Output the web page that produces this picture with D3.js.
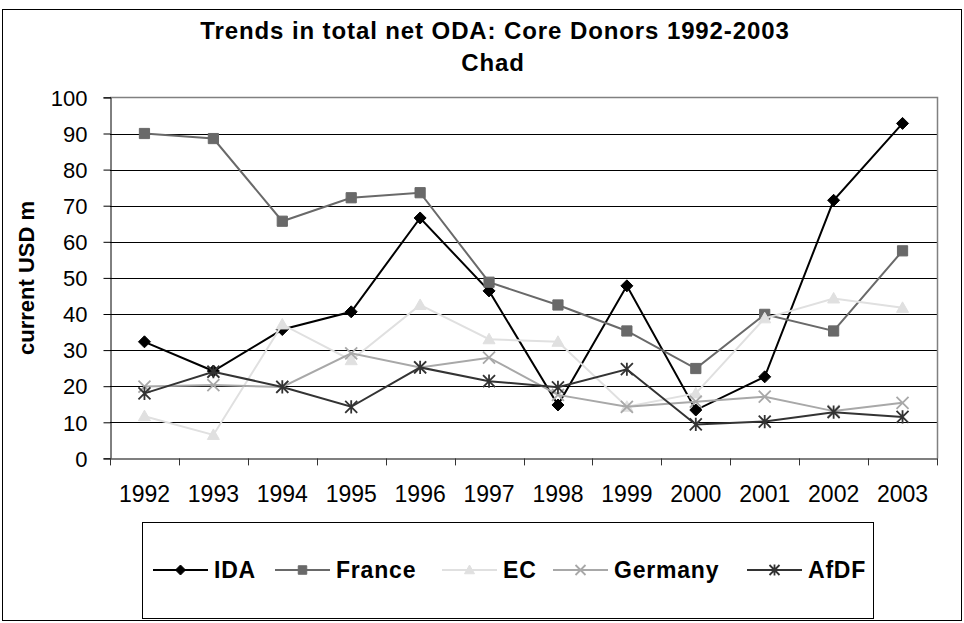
<!DOCTYPE html>
<html><head><meta charset="utf-8">
<script src="https://cdn.jsdelivr.net/npm/d3@7"></script>
<style>
html,body{margin:0;padding:0;background:#fff;}
svg{display:block;font-family:"Liberation Sans",Arial,sans-serif;}
</style></head>
<body>
<svg id="chart" width="964" height="623"></svg>
<script>
const years = ["1992","1993","1994","1995","1996","1997","1998","1999","2000","2001","2002","2003"];
const yTicks = [0,10,20,30,40,50,60,70,80,90,100];
const seriesNames = ["IDA","France","EC","Germany","AfDF"];
const idaValues     = [32.3, 24.2, 35.7, 40.6, 66.6, 46.4, 14.8, 47.8, 13.4, 22.6, 71.5, 92.8];
const franceValues  = [90.0, 88.6, 65.7, 72.2, 73.6, 48.8, 42.5, 35.3, 24.9, 39.9, 35.3, 57.5];
const ecValues      = [11.7, 6.5, 37.1, 27.2, 42.5, 33.0, 32.3, 14.3, 18.0, 38.8, 44.3, 41.7];
const germanyValues = [19.9, 20.3, 19.8, 29.1, 25.2, 27.9, 17.6, 14.3, 15.7, 17.1, 13.1, 15.4];
const afdfValues    = [18.0, 24.0, 19.8, 14.3, 25.2, 21.4, 19.7, 24.7, 9.4, 10.2, 12.8, 11.5];

const titleText = "Trends in total net ODA: Core Donors 1992-2003";
const subtitleText = "Chad";
const yAxisTitle = "current USD m";

const styles = {
  IDA:     {color:"#000000", marker:"diamond"},
  France:  {color:"#696969", marker:"square"},
  EC:      {color:"#e0e0e0", marker:"triangle"},
  Germany: {color:"#a8a8a8", marker:"x"},
  AfDF:    {color:"#333333", marker:"asterisk"}
};
const seriesData = [idaValues, franceValues, ecValues, germanyValues, afdfValues];

const svg = d3.select("#chart");
const L = 110, R = 937, T = 97.4, B = 458.4;

// outer border
svg.append("rect").attr("x",2.5).attr("y",9.5).attr("width",959).attr("height",611)
  .attr("fill","#fff").attr("stroke","#000").attr("stroke-width",1);

const x = d3.scaleBand().domain(years).range([L,R]).padding(0);
const y = d3.scaleLinear().domain([0,100]).range([B,T]);
const cx = d => x(d) + x.bandwidth()/2;

// gridlines
svg.append("g").selectAll("line").data(yTicks.filter(v=>v>0 && v<100)).join("line")
  .attr("x1",L).attr("x2",R).attr("y1",d=>Math.round(y(d))+0.5).attr("y2",d=>Math.round(y(d))+0.5)
  .attr("stroke","#000").attr("stroke-width",1);
// plot border top/right
svg.append("path").attr("d",`M${L},${Math.round(T)+0.5}H${R+0.5}V${B}`)
  .attr("fill","none").attr("stroke","#808080").attr("stroke-width",1.5);

// y axis
const yAxis = d3.axisLeft(y).tickValues(yTicks).tickSize(7).tickPadding(16);
const gy = svg.append("g").attr("transform",`translate(${L+0.5},0)`).call(yAxis);
gy.select(".domain").attr("stroke","#000");
gy.selectAll(".tick line").attr("stroke","#000");
gy.selectAll("text").attr("font-size",22).attr("fill","#000").attr("dy","0.35em")
  .style("font-family","'Liberation Sans',Arial,sans-serif");

// x axis
const xAxis = d3.axisBottom(x).tickSize(0).tickPadding(30);
const gx = svg.append("g").attr("transform",`translate(0,${Math.round(B)+0.5})`).call(xAxis);
gx.select(".domain").attr("stroke","#555").attr("stroke-width",1.5);
gx.selectAll("text").attr("font-size",23).attr("fill","#000").attr("dy","0")
  .attr("y",43).style("font-family","'Liberation Sans',Arial,sans-serif");
// category boundary ticks
svg.append("g").selectAll("line").data(years.concat(["end"])).join("line")
  .attr("x1",(d,i)=> i<years.length ? Math.round(x(d))+0.5 : R+0.5)
  .attr("x2",(d,i)=> i<years.length ? Math.round(x(d))+0.5 : R+0.5)
  .attr("y1",B).attr("y2",B+7).attr("stroke","#333").attr("stroke-width",1);

// titles
svg.append("text").attr("x",495).attr("y",39).attr("text-anchor","middle")
  .attr("font-size",24).attr("font-weight","bold").attr("letter-spacing","0.9")
  .text(titleText);
svg.append("text").attr("x",493).attr("y",71).attr("text-anchor","middle")
  .attr("font-size",24).attr("font-weight","bold").attr("letter-spacing","0.9")
  .text(subtitleText);
svg.append("text").attr("transform","translate(34,278) rotate(-90)").attr("text-anchor","middle")
  .attr("font-size",22).attr("font-weight","bold").text(yAxisTitle);

function markerPath(type, s){
  switch(type){
    case "diamond": return `M0,${-s}L${s},0L0,${s}L${-s},0Z`;
    case "square": return `M${-s*0.85},${-s*0.85}H${s*0.85}V${s*0.85}H${-s*0.85}Z`;
    case "triangle": return `M0,${-s}L${s},${s*0.75}L${-s},${s*0.75}Z`;
    case "x": return `M${-s},${-s}L${s},${s}M${-s},${s}L${s},${-s}`;
    case "asterisk": return `M${-s},${-s}L${s},${s}M${-s},${s}L${s},${-s}M0,${-s*1.1}V${s*1.1}`;
  }
}
function drawMarker(g, type, color, s){
  const filled = (type==="diamond"||type==="square"||type==="triangle");
  g.append("path").attr("d",markerPath(type,s))
    .attr("fill",filled?color:"none").attr("stroke",color)
    .attr("stroke-width",filled?1:1.8);
}

const line = d3.line().x((d,i)=>cx(years[i])).y(d=>y(d));
seriesNames.forEach((name,k)=>{
  const st = styles[name];
  const vals = seriesData[k];
  const g = svg.append("g");
  g.append("path").datum(vals).attr("d",line).attr("fill","none")
    .attr("stroke",st.color).attr("stroke-width",2);
  vals.forEach((v,i)=>{
    const m = g.append("g").attr("transform",`translate(${cx(years[i])},${y(v)})`);
    drawMarker(m, st.marker, st.color, 6);
  });
});

// legend
svg.append("rect").attr("x",142.5).attr("y",522.5).attr("width",731).attr("height",96)
  .attr("fill","#fff").attr("stroke","#000").attr("stroke-width",1);
const legendPos = [153, 275, 442, 553, 747];
seriesNames.forEach((name,k)=>{
  const st = styles[name];
  const lx = legendPos[k], ly = 570;
  const g = svg.append("g");
  g.append("line").attr("x1",lx).attr("x2",lx+55).attr("y1",ly).attr("y2",ly)
    .attr("stroke",st.color).attr("stroke-width",2);
  const m = g.append("g").attr("transform",`translate(${lx+27.5},${ly})`);
  drawMarker(m, st.marker, st.color, 5);
  g.append("text").attr("x",lx+61).attr("y",ly).attr("dy","0.36em")
    .attr("font-size",23).attr("font-weight","bold").attr("letter-spacing","0.8")
    .text(name);
});
</script>
</body></html>
